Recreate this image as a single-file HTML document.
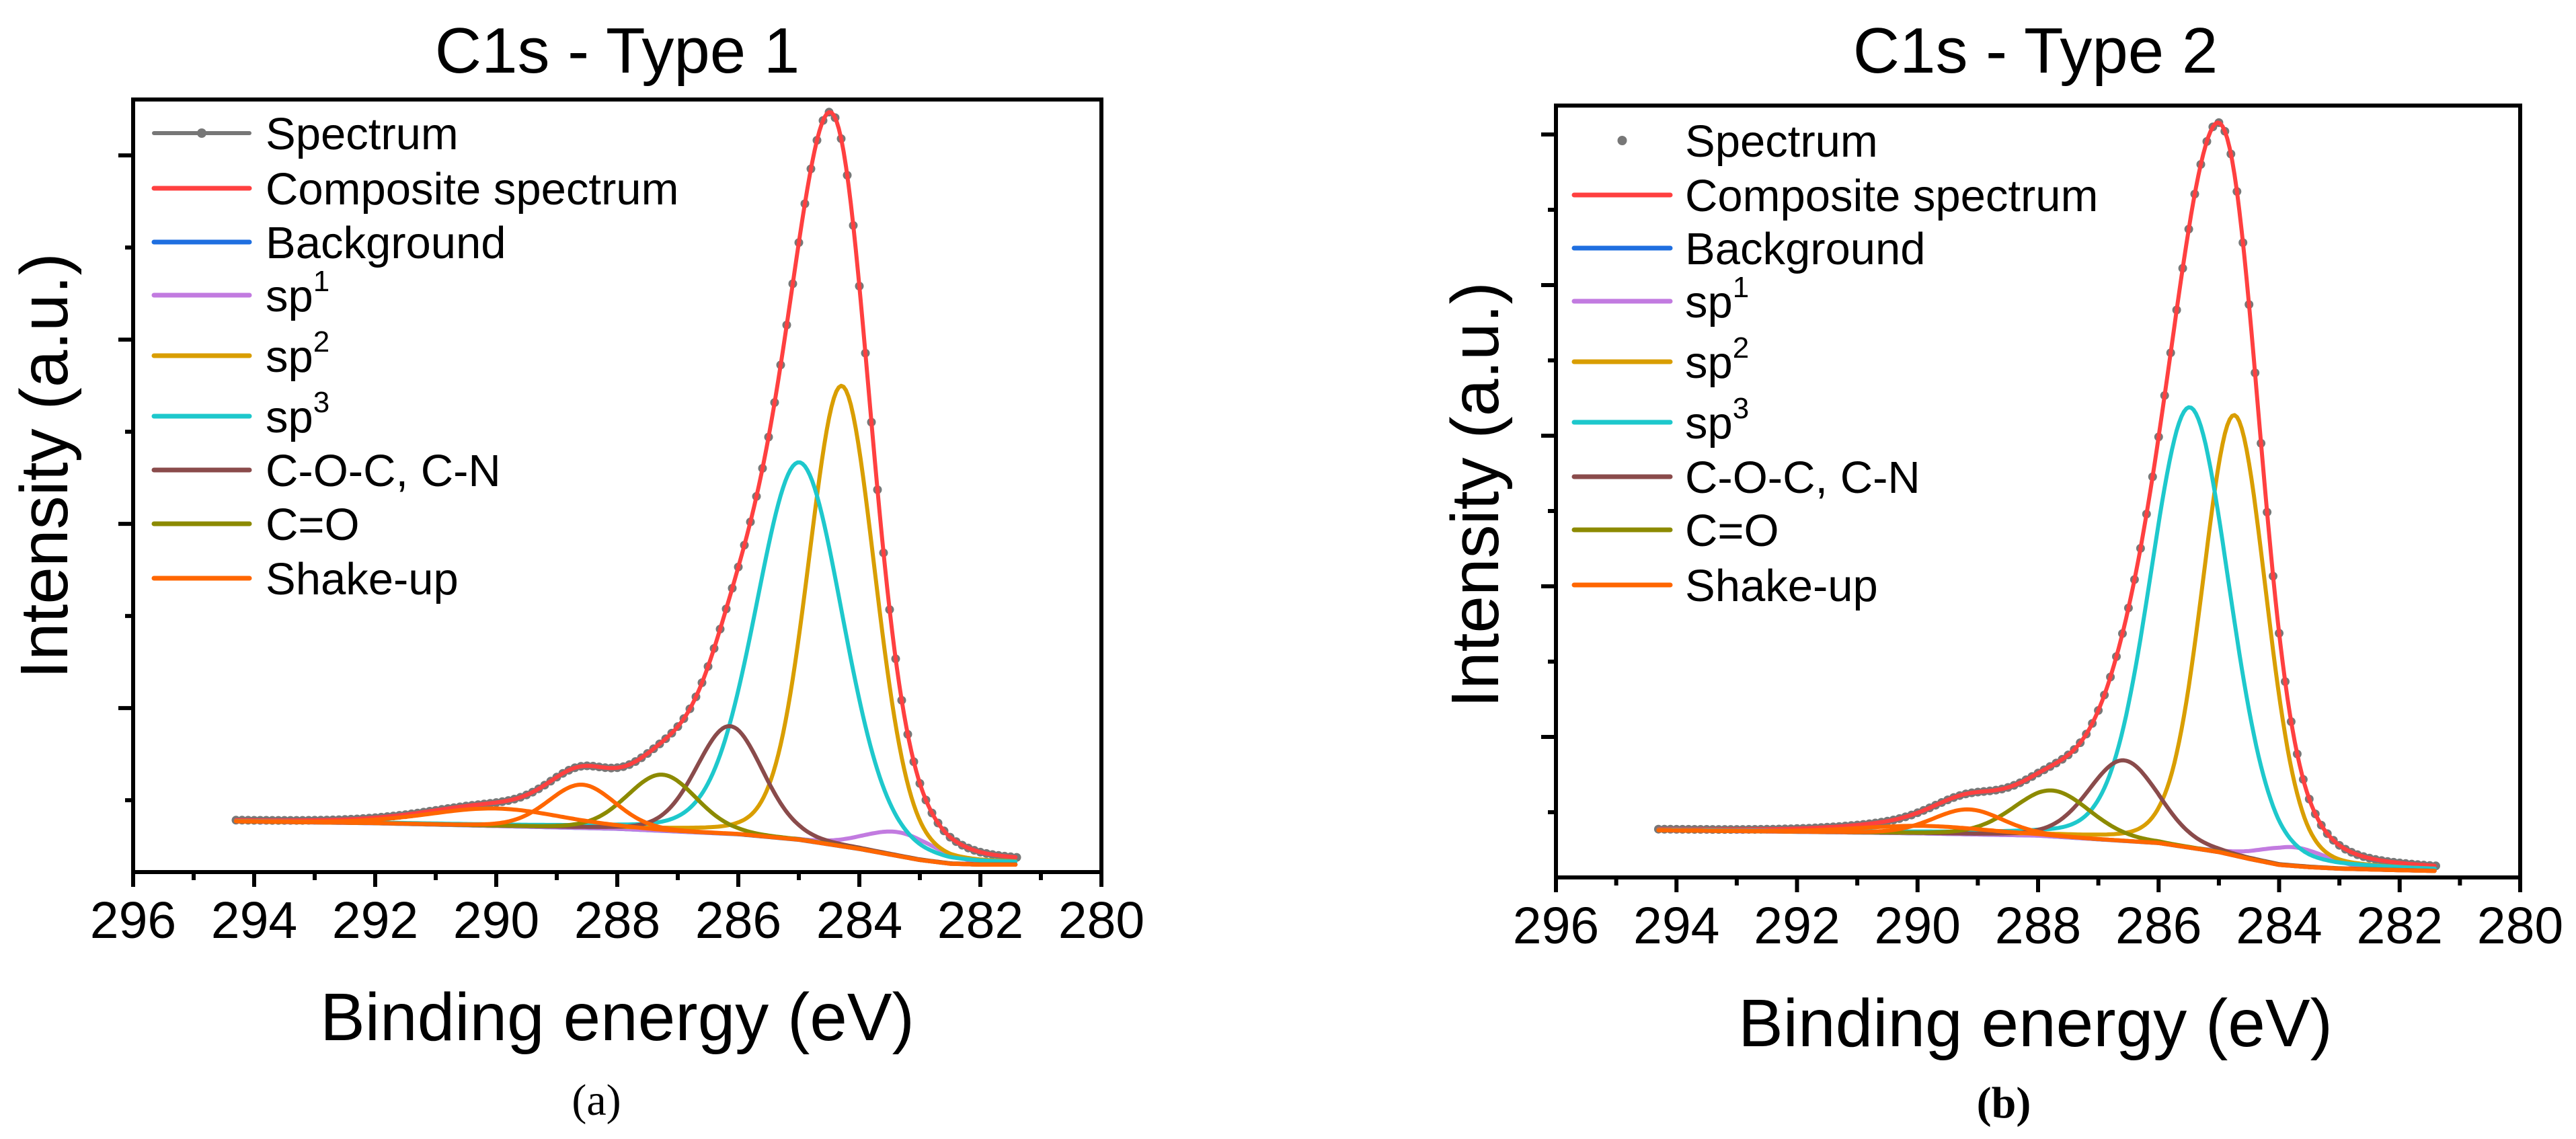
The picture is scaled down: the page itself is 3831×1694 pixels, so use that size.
<!DOCTYPE html>
<html><head><meta charset="utf-8"><style>
html,body{margin:0;padding:0;background:#fff}
svg{display:block}
text{font-family:"Liberation Sans",sans-serif;fill:#000}
text.serif{font-family:"Liberation Serif",serif}
</style></head><body>
<svg id="fig" width="3831" height="1694" viewBox="0 0 3831 1694" xmlns="http://www.w3.org/2000/svg"></svg>
<script>
// ---------- shared data ----------
const xTicks = [296, 294, 292, 290, 288, 286, 284, 282, 280];
const legendLabels = ["Spectrum", "Composite spectrum", "Background", "sp1", "sp2", "sp3", "C-O-C, C-N", "C=O", "Shake-up"];
const peakNames = ["sp1", "sp2", "sp3", "C-O-C, C-N", "C=O", "Shake-up", "Shake-up"];
// ---------- panel (a) data ----------
const aBgEnergy = [294.3, 292, 290, 288, 286, 285, 284.5, 284, 283.5, 283, 282.5, 282, 281.4];
const aBgValue  = [0.77, 0.75, 0.72, 0.69, 0.63, 0.57, 0.52, 0.47, 0.41, 0.35, 0.31, 0.30, 0.30];
const aPeakCenter = [283.34, 284.29, 284.99, 286.14, 287.26, 288.59, 290.0];
const aPeakHeight = [0.26, 5.0, 4.1, 1.17, 0.61, 0.47, 0.19];
const aPeakFwhm   = [1.4, 1.3, 1.7, 1.3, 1.35, 1.3, 2.6];
const aYTicks = [1, 2, 3, 4, 5, 6, 7, 8];
// ---------- panel (b) data ----------
const bBgEnergy = [294.3, 292, 290, 288, 286, 285, 284.5, 284, 283.5, 283, 282.5, 282, 281.4];
const bBgValue  = [0.76, 0.74, 0.72, 0.69, 0.59, 0.47, 0.38, 0.30, 0.27, 0.25, 0.24, 0.23, 0.22];
const bPeakCenter = [283.77, 284.74, 285.48, 286.58, 287.77, 289.16, 289.9];
const bPeakHeight = [0.25, 5.85, 5.85, 1.07, 0.61, 0.33, 0.1];
const bPeakFwhm   = [1.3, 1.25, 1.55, 1.37, 1.5, 1.37, 2.5];
const bYTicks = [1, 2, 3, 4, 5, 6, 7, 8, 9, 10];

const NS = "http://www.w3.org/2000/svg";
const svg = document.getElementById("fig");
const colors = {spectrum:"#777777", composite:"#ff4040", background:"#1f6fe0", sp1:"#c27be0", sp2:"#d99e00", sp3:"#1ec8cc", coc:"#8a4b4b", co:"#8c8a00", shake:"#ff6600"};
const peakColors = [colors.sp1, colors.sp2, colors.sp3, colors.coc, colors.co, colors.shake, colors.shake];
const legendColors = [colors.spectrum, colors.composite, colors.background, colors.sp1, colors.sp2, colors.sp3, colors.coc, colors.co, colors.shake];

function mk(tag, attrs, parent) {
  const el = document.createElementNS(NS, tag);
  for (const k in attrs) el.setAttribute(k, attrs[k]);
  (parent || svg).appendChild(el);
  return el;
}
function interp(xs, ys, x) {
  if (x >= xs[0]) return ys[0];
  for (let i = 1; i < xs.length; i++) {
    if (x >= xs[i]) { const t = (xs[i-1] - x) / (xs[i-1] - xs[i]); return ys[i-1] + t * (ys[i] - ys[i-1]); }
  }
  return ys[ys.length - 1];
}
function pv(x, c, h, w) {
  const d = (x - c) / w;
  return h * (0.85 * Math.exp(-4 * Math.LN2 * d * d) + 0.15 / (1 + 4 * d * d));
}

function panel(cfg) {
  const g = mk("g", {});
  
  
  const X = e => cfg.left + (296 - e) / 16 * (cfg.right - cfg.left);
  const Y = v => cfg.bottom - (v - cfg.yMin) / (cfg.yMax - cfg.yMin) * (cfg.bottom - cfg.top);
  const E0 = 294.3, E1 = 281.4;
  const bg = e => interp(cfg.bgE, cfg.bgV, e);
  const comp = e => { let s = bg(e); for (let i = 0; i < cfg.pc.length; i++) s += pv(e, cfg.pc[i], cfg.ph[i], cfg.pw[i]); return s; };
  function curve(fn, color, nm) {
    let d = "";
    for (let e = E0; e >= E1 - 1e-9; e -= 0.04) d += (d ? "L" : "M") + X(e).toFixed(1) + "," + Y(fn(e)).toFixed(1);
    const p = mk("path", {d: d, fill: "none", stroke: color, "stroke-width": 6, "stroke-linejoin": "round", "stroke-linecap": "round"}, g);
    
    
  }
  const sg = mk("g", {}, g);
  
  
  if (cfg.specLine) {
    let d = "";
    for (let e = E0; e >= E1 - 1e-9; e -= 0.1) d += (d ? "L" : "M") + X(e).toFixed(1) + "," + Y(comp(e)).toFixed(1);
    mk("path", {d: d, fill: "none", stroke: colors.spectrum, "stroke-width": 4}, sg);
  }
  for (let e = E0; e >= E1 - 1e-9; e -= 0.1) {
    const c = mk("circle", {cx: X(e).toFixed(1), cy: Y(comp(e)).toFixed(1), r: 6.5, fill: colors.spectrum}, sg);
    
    
  }
  curve(comp, colors.composite, "composite-curve");
  curve(bg, colors.background, "background-curve");
  for (let i = 0; i < cfg.pc.length; i++) {
    if (peakColors[i] === colors.shake) continue;
    curve(e => bg(e) + pv(e, cfg.pc[i], cfg.ph[i], cfg.pw[i]), peakColors[i], "peak-" + peakNames[i].toLowerCase().replace(/[^a-z0-9]+/g, "-"));
  }
  for (let i = 0; i < cfg.pc.length; i++) {
    if (peakColors[i] !== colors.shake) continue;
    curve(e => bg(e) + pv(e, cfg.pc[i], cfg.ph[i], cfg.pw[i]), peakColors[i], "peak-shake-up");
  }
  const fr = mk("rect", {x: cfg.left, y: cfg.top, width: cfg.right - cfg.left, height: cfg.bottom - cfg.top, fill: "none", stroke: "#000", "stroke-width": 6}, g);
  
  
  xTicks.forEach((t, i) => {
    const x = X(t);
    mk("line", {x1: x, x2: x, y1: cfg.bottom, y2: cfg.bottom + 22, stroke: "#000", "stroke-width": 6}, g);
    if (i < xTicks.length - 1) { const xm = X(t - 1); mk("line", {x1: xm, x2: xm, y1: cfg.bottom, y2: cfg.bottom + 12, stroke: "#000", "stroke-width": 6}, g); }
    const tx = mk("text", {x: x, y: cfg.bottom + 98, "font-size": 77, "text-anchor": "middle"}, g);
    tx.textContent = t;
    
    
  });
  cfg.yTicks.forEach((t, i) => {
    const y = Y(t);
    const major = (cfg.yTicks.length - 1 - i) % 2 === 0;
    mk("line", {x1: cfg.left - (major ? 22 : 12), x2: cfg.left, y1: y, y2: y, stroke: "#000", "stroke-width": 6}, g);
  });
  const tt = mk("text", {x: cfg.cx, y: 108, "font-size": 96, "text-anchor": "middle"}, g);
  tt.textContent = cfg.title;
  
  
  const xt = mk("text", {x: cfg.cx, y: cfg.xTitleY, "font-size": 100, "text-anchor": "middle"}, g);
  xt.textContent = "Binding energy (eV)";
  
  
  const yt = mk("text", {x: 0, y: 0, "font-size": 100, "text-anchor": "middle", transform: "translate(" + cfg.yTitleX + "," + cfg.yTitleY + ") rotate(-90)"}, g);
  yt.textContent = "Intensity (a.u.)";
  
  
  const cap = mk("text", {x: cfg.capX, y: cfg.capY, "font-size": 66, "text-anchor": "middle", "class": "serif", "font-weight": cfg.capBold ? "bold" : "normal"}, g);
  cap.textContent = cfg.caption;
  
  
  const lg = mk("g", {}, g);
  
  
  legendLabels.forEach((lab, i) => {
    const y = cfg.legRows[i];
    const e = mk("g", {}, lg);
    
    
    if (i === 0) {
      if (cfg.specLine) mk("line", {x1: cfg.legX0, x2: cfg.legX1, y1: y, y2: y, stroke: colors.spectrum, "stroke-width": 6, "stroke-linecap": "round"}, e);
      mk("circle", {cx: (cfg.legX0 + cfg.legX1) / 2, cy: y, r: 7, fill: colors.spectrum}, e);
    } else {
      mk("line", {x1: cfg.legX0, x2: cfg.legX1, y1: y, y2: y, stroke: legendColors[i], "stroke-width": 7, "stroke-linecap": "round"}, e);
    }
    const t = mk("text", {x: cfg.legTX, y: y + 24, "font-size": 67}, e);
    if (/^sp\d$/.test(lab)) {
      t.textContent = "sp";
      const s = mk("tspan", {"font-size": 44, dy: -30}, t);
      s.textContent = lab[2];
    } else t.textContent = lab;
  });
}

panel({name: "panel-a", left: 198, right: 1638, top: 148, bottom: 1297, yMin: 0.22, yMax: 0.22 + 1149 / 137,
  bgE: aBgEnergy, bgV: aBgValue, pc: aPeakCenter, ph: aPeakHeight, pw: aPeakFwhm, yTicks: aYTicks,
  title: "C1s - Type 1", cx: 918, xTitleY: 1547, yTitleX: 100, yTitleY: 693, caption: "(a)", capX: 887, capY: 1658, capBold: false,
  legX0: 229, legX1: 371, legTX: 395, legRows: [198, 280, 360, 439, 529, 619, 699, 779, 860], specLine: true});
panel({name: "panel-b", left: 2314, right: 3748, top: 157, bottom: 1305, yMin: 0.134, yMax: 0.134 + 1148 / 112,
  bgE: bBgEnergy, bgV: bBgValue, pc: bPeakCenter, ph: bPeakHeight, pw: bPeakFwhm, yTicks: bYTicks,
  title: "C1s - Type 2", cx: 3027, xTitleY: 1556, yTitleX: 2228, yTitleY: 736, caption: "(b)", capX: 2980, capY: 1662, capBold: true,
  legX0: 2341, legX1: 2484, legTX: 2506, legRows: [209, 290, 369, 448, 538, 628, 709, 788, 870], specLine: false});
</script>
</body></html>
